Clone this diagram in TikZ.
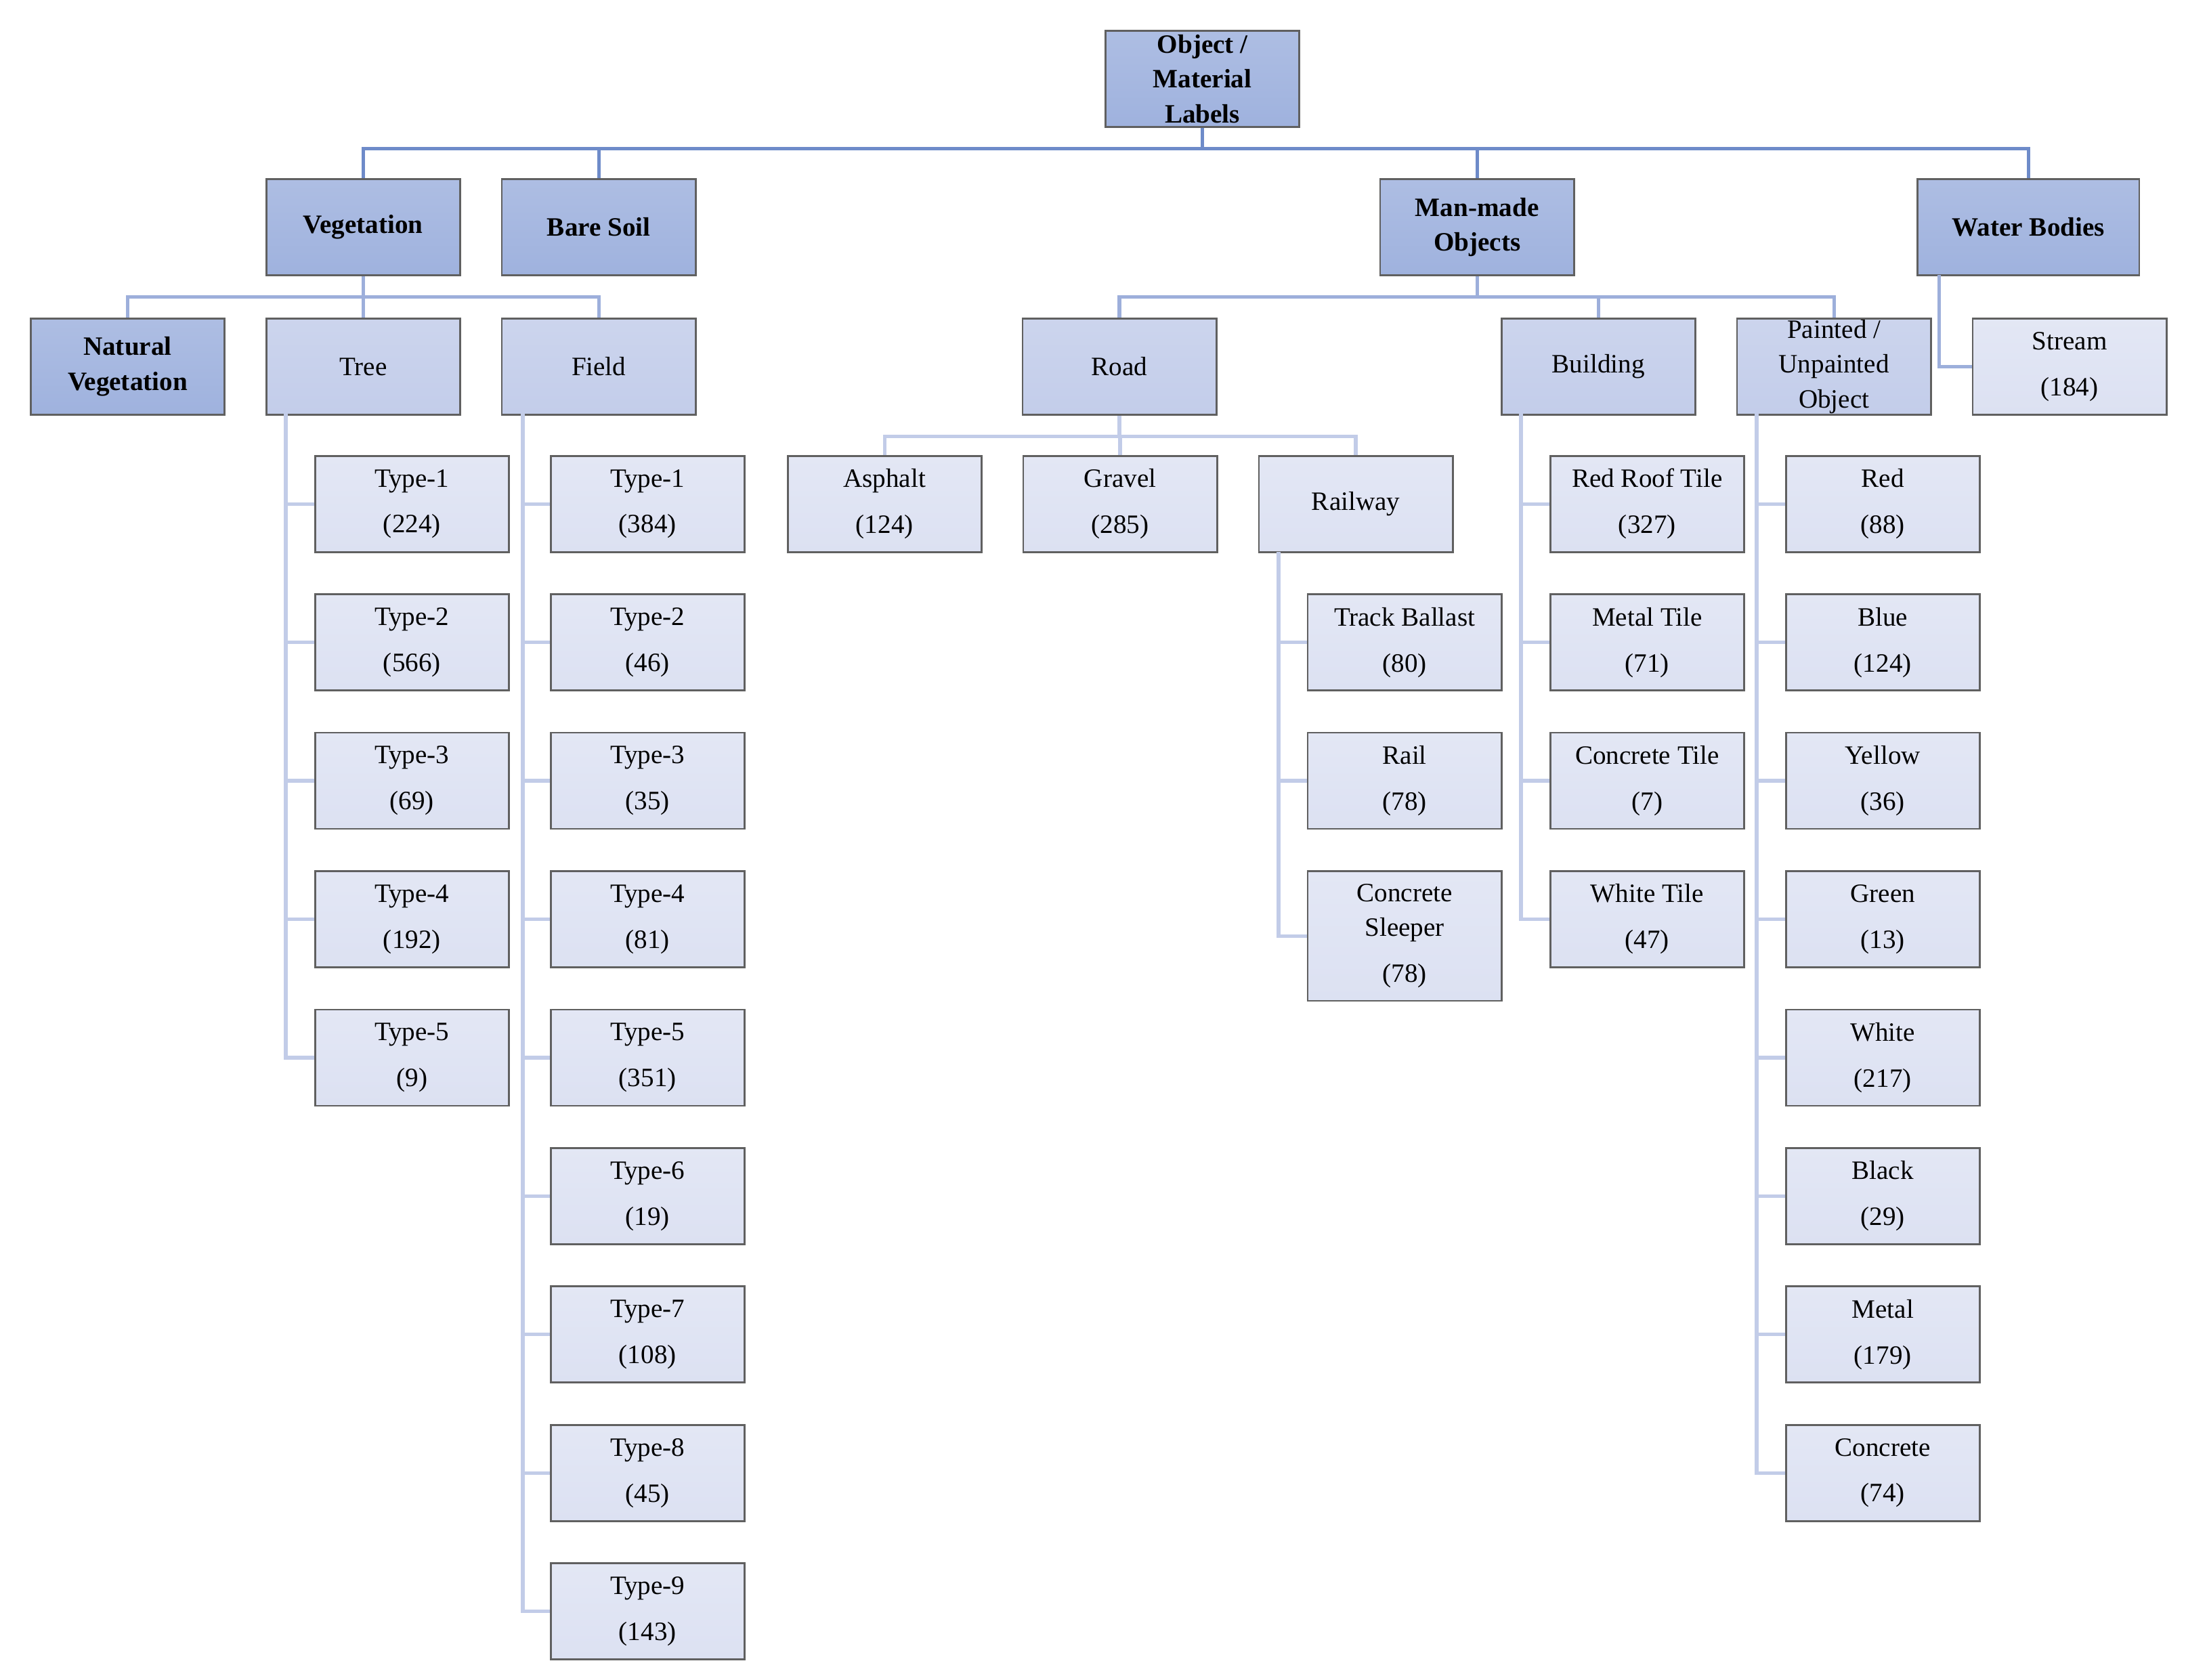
\documentclass[tikz,border=0pt]{standalone}
\usepackage{fontspec}
\setmainfont{Liberation Serif}
\begin{document}
\begin{tikzpicture}[x=1pt,y=-1pt,
 bx/.style={draw=gray!75!black,line width=1.3pt,minimum width=139pt,minimum height=69pt,align=center,font=\fontsize{19}{25}\selectfont,inner sep=0pt},
 l0/.style={bx,top color=cA!85!white,bottom color=cA,font=\fontsize{19}{25}\selectfont\bfseries},
 l2/.style={bx,top color=cC!85!white,bottom color=cC},
 l3/.style={bx,top color=cD!80!white,bottom color=cD},
 e0/.style={draw=lA,line width=2.6pt},
 e1/.style={draw=lB,line width=2.6pt},
 e2/.style={draw=lC,line width=2.6pt}]
\definecolor{cA}{HTML}{9FB2DE}
\definecolor{cC}{HTML}{C3CDEA}
\definecolor{cD}{HTML}{DCE1F2}
\definecolor{lA}{HTML}{6E8BC9}
\definecolor{lB}{HTML}{9DAFDB}
\definecolor{lC}{HTML}{C2CCE8}
\useasboundingbox (0,0) rectangle (1568,1205);
% level 0/1
\node[l0] (root) at (862.5,56.5) {Object /\\Material\\Labels};
\node[l0] (veg) at (260.5,163) {Vegetation};
\node[l0] (soil) at (429.5,163) {Bare Soil};
\node[l0] (man) at (1059.5,163) {Man-made\\Objects};
\node[l0,minimum width=159pt] (water) at (1455,163) {Water Bodies};
\foreach \n in {veg,soil,man,water}{\draw[e0] (root.south) -- ++(0,15) -| (\n.north);}
% level 2
\node[l0] (nat) at (91.5,263) {Natural\\Vegetation};
\node[l2] (tree) at (260.5,263) {Tree};
\node[l2] (field) at (429.5,263) {Field};
\node[l2] (road) at (803,263) {Road};
\node[l2] (bld) at (1146.5,263) {Building};
\node[l2] (paint) at (1315.5,263) {Painted /\\Unpainted\\Object};
\node[l3] (stream) at (1484.5,263) {Stream\\[8pt](184)};
\foreach \n in {nat,tree,field}{\draw[e1] (veg.south) -- ++(0,15) -| (\n.north);}
\foreach \n in {road,bld,paint}{\draw[e1] (man.south) -- ++(0,15) -| (\n.north);}
\coordinate (wt) at (1391,197);
\draw[e1] (wt) |- (stream.west);
% road children
\node[l3] (asph) at (634.5,361.5) {Asphalt\\[8pt](124)};
\node[l3] (grav) at (803.5,361.5) {Gravel\\[8pt](285)};
\node[l3] (rail) at (972.5,361.5) {Railway};
\foreach \n in {asph,grav,rail}{\draw[e2] (road.south) -- ++(0,15) -| (\n.north);}
% columns
\newcommand{\col}[4]{%
 \foreach \t [count=\i from 0] in {#4}{%
  \node[l3] (#1-\i) at (#2+35,361.5+99.3*\i) {\t};
  \draw[e2] (#3) |- (#1-\i.west);}}
\coordinate (tc) at (205,297);
\col{t}{260.5}{tc}{{Type-1\\[8pt](224)},{Type-2\\[8pt](566)},{Type-3\\[8pt](69)},{Type-4\\[8pt](192)},{Type-5\\[8pt](9)}}
\coordinate (fc) at (375,297);
\col{f}{429.5}{fc}{{Type-1\\[8pt](384)},{Type-2\\[8pt](46)},{Type-3\\[8pt](35)},{Type-4\\[8pt](81)},{Type-5\\[8pt](351)},{Type-6\\[8pt](19)},{Type-7\\[8pt](108)},{Type-8\\[8pt](45)},{Type-9\\[8pt](143)}}
\coordinate (bc) at (1091,297);
\col{b}{1146.5}{bc}{{Red Roof Tile\\[8pt](327)},{Metal Tile\\[8pt](71)},{Concrete Tile\\[8pt](7)},{White Tile\\[8pt](47)}}
\coordinate (pc) at (1260,297);
\col{p}{1315.5}{pc}{{Red\\[8pt](88)},{Blue\\[8pt](124)},{Yellow\\[8pt](36)},{Green\\[8pt](13)},{White\\[8pt](217)},{Black\\[8pt](29)},{Metal\\[8pt](179)},{Concrete\\[8pt](74)}}
\coordinate (rc) at (917,396);
\node[l3] (tb) at (1007.5,460.8) {Track Ballast\\[8pt](80)};
\node[l3] (rl) at (1007.5,560.1) {Rail\\[8pt](78)};
\node[l3,minimum height=93pt] (cs) at (1007.5,671.5) {Concrete\\Sleeper\\[8pt](78)};
\foreach \n in {tb,rl,cs}{\draw[e2] (rc) |- (\n.west);}
\end{tikzpicture}
\end{document}
